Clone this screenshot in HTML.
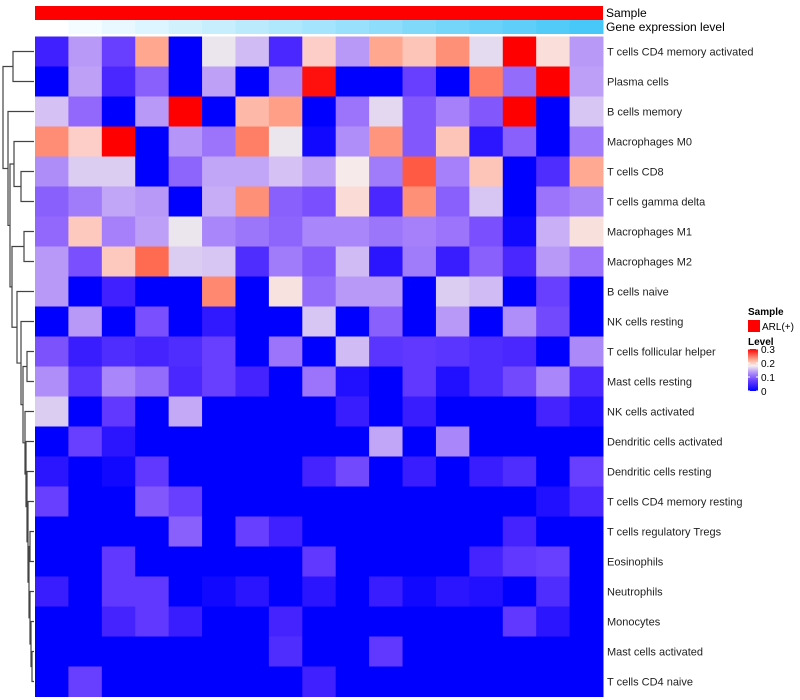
<!DOCTYPE html>
<html><head><meta charset="utf-8"><style>
html,body{margin:0;padding:0;background:#fff;}
svg{display:block;font-family:"Liberation Sans",sans-serif;}
</style></head><body>
<svg id="chart" width="800" height="700" viewBox="0 0 800 700" xmlns="http://www.w3.org/2000/svg">
<g id="dendro"></g>
<g id="annot"></g>
<g id="cells"></g>
<g id="labels"></g>
<text x="606" y="17" font-size="12" fill="#000">Sample</text>
<text x="606" y="31" font-size="12" fill="#000">Gene expression level</text>
<g>
<text x="748" y="315" font-size="10" font-weight="bold">Sample</text>
<rect x="748" y="320" width="12" height="12" fill="#ff0000"/>
<text x="762" y="330" font-size="10">ARL(+)</text>
<text x="748" y="345" font-size="10" font-weight="bold">Level</text>
<defs><linearGradient id="lg" x1="0" y1="1" x2="0" y2="0">
<stop offset="0" stop-color="#0000ff"/><stop offset="0.25" stop-color="#6a40ff"/><stop offset="0.45" stop-color="#b898f8"/><stop offset="0.6" stop-color="#f5f0f0"/><stop offset="0.75" stop-color="#ffa890"/><stop offset="1" stop-color="#ff0000"/></linearGradient></defs>
<rect x="748" y="349" width="10" height="42" fill="url(#lg)"/>
<g id="legticks"></g>
</g>
</svg>
<script>
const rowNames=["T cells CD4 memory activated","Plasma cells","B cells memory","Macrophages M0","T cells CD8","T cells gamma delta","Macrophages M1","Macrophages M2","B cells naive","NK cells resting","T cells follicular helper","Mast cells resting","NK cells activated","Dendritic cells activated","Dendritic cells resting","T cells CD4 memory resting","T cells regulatory  Tregs","Eosinophils","Neutrophils","Monocytes","Mast cells activated","T cells CD4 naive"];
const r1=[.045,.13,.075,.218,0,.167,.147,.052,.199,.13,.218,.204,.229,.162,.3,.19,.13];
const r2=[0,.134,.052,.097,0,.134,0,.119,.292,0,0,.075,0,.239,.104,.3,.133];
const r3=[.15,.102,0,.13,.3,0,.21,.222,0,.109,.161,.092,.116,.092,.3,0,.152];
const r4=[.231,.199,.3,0,.128,.109,.238,.167,.011,.124,.227,.092,.204,.031,.097,0,.112];
const r5=[.123,.155,.155,0,.1,.136,.136,.15,.133,.183,.113,.256,.116,.204,0,.056,.217];
const r6=[.097,.113,.136,.13,0,.14,.229,.097,.086,.192,.052,.229,.097,.152,0,.109,.12];
const r7=[.102,.202,.116,.133,.167,.119,.11,.1,.119,.119,.11,.116,.109,.086,.011,.141,.189];
const r8=[.13,.086,.202,.248,.155,.152,.056,.113,.093,.147,.030,.113,.041,.097,.052,.13,.109];
const r9=[.13,0,.045,0,0,.233,0,.188,.104,.13,.13,0,.155,.147,0,.075,0];
const r10=[0,.13,0,.086,0,.034,0,0,.152,0,.097,0,.13,0,.124,.082,0];
const r11=[.088,.041,.056,.048,.056,.075,0,.109,0,.147,.064,.068,.064,.056,.052,0,.121];
const r12=[.124,.064,.119,.104,.052,.075,.048,0,.109,.023,0,.068,.023,.056,.082,.119,.052];
const r13=[.155,0,.068,0,.138,0,0,0,0,.041,0,.041,0,0,0,.048,.023];
const r14=[0,.075,.030,0,0,0,0,0,0,0,.136,0,.119,0,0,0,0];
const r15=[.030,0,.011,.068,0,0,0,0,.048,.082,0,.041,0,.041,.056,0,.075];
const r16=[.075,0,0,.092,.075,0,0,0,0,0,0,0,0,0,0,.023,.052];
const r17=[0,0,0,0,.097,0,.075,.045,0,0,0,0,0,0,.048,0,0];
const r18=[0,0,.068,0,0,0,0,0,.068,0,0,0,0,.048,.068,.075,0];
const r19=[.041,0,.068,.068,0,.011,.030,0,.030,0,.041,.011,.030,.023,0,.056,0];
const r20=[0,0,.048,.068,.041,0,0,.048,0,0,0,0,0,0,.068,.030,0];
const r21=[0,0,0,0,0,0,0,.056,0,0,.068,0,0,0,0,0,0];
const r22=[0,.075,0,0,0,0,0,0,.045,0,0,0,0,0,0,0,0];
const values=[r1,r2,r3,r4,r5,r6,r7,r8,r9,r10,r11,r12,r13,r14,r15,r16,r17,r18,r19,r20,r21,r22];
const geneLevel=[0,1,2,3,4,5,6,7,8,9,10,11,12,13,14,15,16];
const legendTicks=[0,0.1,0.2,0.3];

const NS="http://www.w3.org/2000/svg";
const X0=35,X1=603,Y0=36.5,RH=30;
const nCol=values[0].length, CW=(X1-X0)/nCol;
const xPos=i=>X0+i*CW, yPos=j=>Y0+j*RH;
const MID=0.18, VMAX=0.3;
const blueStops=[[0,[0,0,255]],[.25,[64,32,255]],[.42,[106,64,255]],[.54,[138,96,252]],[.72,[184,152,248]],[.83,[212,192,244]],[.93,[236,230,238]],[1,[245,240,240]]];
const redStops=[[0,[245,240,240]],[.155,[252,207,200]],[.314,[255,168,144]],[.41,[255,144,120]],[.57,[255,106,80]],[1,[255,0,0]]];
function interp(stops,t){t=Math.max(0,Math.min(1,t));for(let i=1;i<stops.length;i++){if(t<=stops[i][0]){const a=stops[i-1],b=stops[i],f=(t-a[0])/(b[0]-a[0]);return 'rgb('+a[1].map((c,k)=>Math.round(c+(b[1][k]-c)*f)).join(',')+')';}}return 'rgb('+stops[stops.length-1][1].join(',')+')';}
function color(v){return v<=MID?interp(blueStops,v/MID):interp(redStops,(v-MID)/(VMAX-MID));}
function mk(tag,attrs,parent){const e=document.createElementNS(NS,tag);for(const k in attrs)e.setAttribute(k,attrs[k]);parent.appendChild(e);return e;}

const cells=document.getElementById('cells');
values.forEach((row,j)=>row.forEach((v,i)=>{
  const r=mk('rect',{x:xPos(i),y:yPos(j),width:CW+0.5,height:RH+0.5,fill:color(v)},cells);
  
  
}));
const labels=document.getElementById('labels');
rowNames.forEach((n,j)=>{
  const t=mk('text',{x:X1+4,y:yPos(j)+RH/2+4,'font-size':'11',fill:'#222'},labels);
  t.textContent=n;
  
  
});
const annot=document.getElementById('annot');
const sr=mk('rect',{x:X0,y:6,width:X1-X0,height:14,fill:'#ff0000'},annot);


const gmax=Math.max(...geneLevel);
geneLevel.forEach((g,i)=>{
  const f=g/gmax;
  const c='rgb('+Math.round(255+(72-255)*f)+','+Math.round(255+(200-255)*f)+','+Math.round(255+(248-255)*f)+')';
  const r=mk('rect',{x:xPos(i),y:20,width:CW+0.5,height:14,fill:c},annot);
  
  
});
const lt=document.getElementById('legticks');
legendTicks.forEach(v=>{
  const y=391-v/VMAX*42;
  mk('line',{x1:748,x2:750,y1:y,y2:y,stroke:'#fff','stroke-width':1},lt);
  mk('line',{x1:756,x2:758,y1:y,y2:y,stroke:'#fff','stroke-width':1},lt);
  const t=mk('text',{x:761,y:y+4,'font-size':'10'},lt);
  t.textContent=String(v);
  
  
});
// dendrogram
function n(l,r,h){return {l,r,h};}
const tree=n(n(0,1,22),n(2,n(n(3,n(4,5,14),21),n(n(6,7,11),n(8,n(9,n(n(10,11,8),n(12,n(13,n(14,n(15,n(n(16,17,5),n(18,n(19,n(20,21,3),4),5),6),7),8),9),10),12),14),18),23),25),27),32);
const dg=document.getElementById('dendro');
function draw(node){
  if(typeof node==='number')return {y:yPos(node)+RH/2,x:X0-1};
  const a=draw(node.l),b=draw(node.r),x=X0-node.h;
  mk('path',{d:'M'+a.x+' '+a.y+'H'+x+'V'+b.y+'H'+b.x,fill:'none',stroke:'#444','stroke-width':1.2},dg);
  return {y:(a.y+b.y)/2,x:x};
}
draw(tree);
</script>
</body></html>
